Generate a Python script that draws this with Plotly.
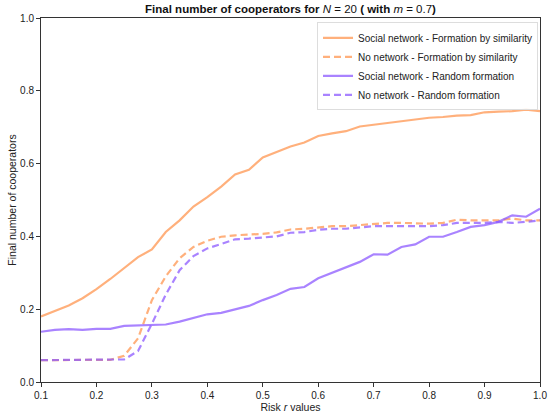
#%%
import numpy as np
import plotly.graph_objects as go

#%% Values (risk r from 0.1 to 1.0, step 0.025)
risk_r = np.round(np.arange(0.1, 1.0001, 0.025), 3)

social_similarity = [0.180, 0.195, 0.210, 0.230, 0.255, 0.283, 0.313, 0.343, 0.364, 0.412,
                     0.444, 0.482, 0.508, 0.537, 0.570, 0.583, 0.617, 0.632, 0.647, 0.658,
                     0.676, 0.683, 0.689, 0.702, 0.707, 0.711, 0.717, 0.722, 0.726, 0.728,
                     0.732, 0.733, 0.741, 0.743, 0.744, 0.748, 0.744]

nonet_similarity = [0.060, 0.060, 0.060, 0.060, 0.060, 0.061, 0.072, 0.120, 0.225, 0.290,
                    0.340, 0.371, 0.388, 0.399, 0.403, 0.404, 0.407, 0.411, 0.419, 0.421,
                    0.425, 0.428, 0.428, 0.431, 0.435, 0.437, 0.437, 0.435, 0.435, 0.437,
                    0.446, 0.444, 0.444, 0.444, 0.449, 0.444, 0.444]

social_random = [0.138, 0.143, 0.145, 0.143, 0.146, 0.146, 0.154, 0.156, 0.156, 0.158,
                 0.166, 0.175, 0.186, 0.190, 0.200, 0.209, 0.225, 0.239, 0.256, 0.261,
                 0.285, 0.300, 0.316, 0.330, 0.351, 0.350, 0.371, 0.378, 0.399, 0.399,
                 0.412, 0.426, 0.431, 0.440, 0.458, 0.454, 0.476]

nonet_random = [0.060, 0.060, 0.060, 0.060, 0.060, 0.060, 0.062, 0.085, 0.160, 0.240,
                0.307, 0.346, 0.367, 0.379, 0.392, 0.394, 0.398, 0.400, 0.410, 0.412,
                0.418, 0.421, 0.421, 0.424, 0.428, 0.428, 0.428, 0.428, 0.428, 0.431,
                0.437, 0.437, 0.437, 0.440, 0.437, 0.440, 0.444]

# semi-transparent lines, so overlapping dashes blend like in the original
orange = 'rgba(255,150,80,0.75)'
purple = 'rgba(140,90,255,0.75)'

series = [
    ('Social network - Formation by similarity', social_similarity, orange, 'solid'),
    ('No network - Formation by similarity', nonet_similarity, orange, '7px,4px'),
    ('Social network - Random formation', social_random, purple, 'solid'),
    ('No network - Random formation', nonet_random, purple, '7px,4px'),
]

#%% Plot
fig = go.Figure()
for name, values, color, dash in series:
    fig.add_trace(go.Scatter(x=risk_r, y=values, mode='lines', name=name,
                             line=dict(color=color, width=2.2, dash=dash)))

axis_style = dict(showline=True, linecolor='#333333', linewidth=1, mirror=True,
                  ticks='outside', ticklen=4, tickcolor='#333333', showgrid=False,
                  zeroline=False, tickformat='.1f', automargin=False,
                  tickfont=dict(size=10, color='#222222'))

fig.update_layout(
    width=550, height=416,
    margin=dict(l=41, r=10, t=18, b=34),
    plot_bgcolor='white', paper_bgcolor='white',
    font=dict(family='Liberation Sans, Arial, sans-serif', size=10, color='#222222'),
    title=dict(text='<b>Final number of cooperators for </b><i>N</i> = 20<b> ( with </b><i>m</i> = 0.7<b>)</b>',
               x=(41 + 540) / 2 / 550, xanchor='center', y=0.978, yanchor='middle',
               font=dict(size=11.5, color='#111111')),
    xaxis=dict(range=[0.1, 1.0], dtick=0.1, tick0=0.1,
               title=dict(text='Risk <i>r</i> values', standoff=2, font=dict(size=10.5)),
               **axis_style),
    yaxis=dict(range=[0, 1.0], dtick=0.2,
               title=dict(text='Final number of cooperators', standoff=1, font=dict(size=10.5)),
               **axis_style),
    legend=dict(x=0.996, y=0.988, xanchor='right', yanchor='top',
                bgcolor='rgba(255,255,255,0.8)', bordercolor='#dddddd', borderwidth=1,
                font=dict(size=10, color='#222222'), tracegroupgap=0,
                itemwidth=30),
    showlegend=True,
)

# drop the page's default body margin so the figure sits at the window's corner
fig.write_html("out.html", config={'displayModeBar': False},
               post_script="document.body.style.margin = '0';")
